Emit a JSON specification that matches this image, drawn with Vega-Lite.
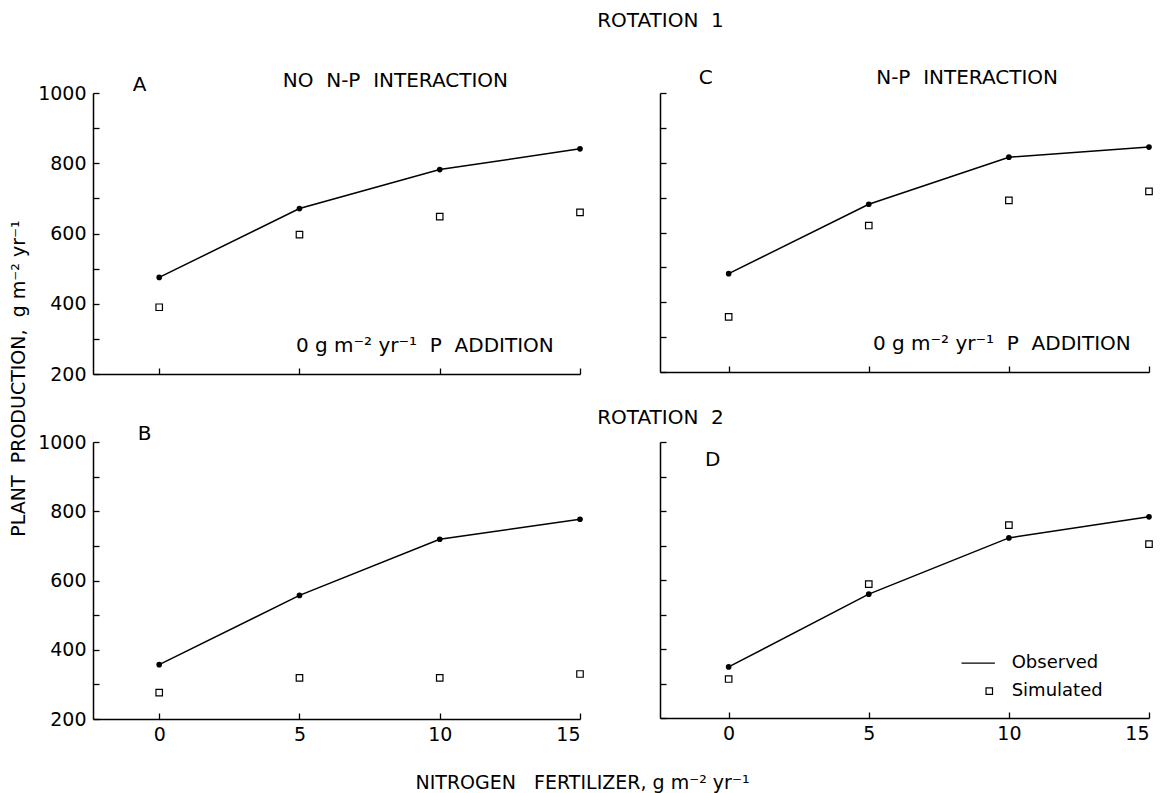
{
  "$schema": "https://vega.github.io/schema/vega-lite/v6.json",
  "background": "white",
  "padding": {"left": 9, "top": 11, "right": 5, "bottom": 5},
  "config": {
    "view": {"stroke": null},
    "font": "DejaVu Sans",
    "axis": {
      "grid": false,
      "domainColor": "black",
      "domainWidth": 1.5,
      "tickColor": "black",
      "tickWidth": 1.3,
      "tickSize": -6,
      "tickCount": 20,
      "labelColor": "black",
      "labelFont": "DejaVu Sans",
      "labelFontSize": 19,
      "titleFont": "DejaVu Sans",
      "titleFontSize": 19,
      "titleFontWeight": "normal",
      "titleColor": "black"
    },
    "title": {"font": "DejaVu Sans", "fontSize": 20, "fontWeight": "normal", "color": "black"}
  },
  "datasets": {
    "production": [
      {"panel": "A", "series": "Observed", "nitrogen": 0, "production": 475},
      {"panel": "A", "series": "Observed", "nitrogen": 5, "production": 671},
      {"panel": "A", "series": "Observed", "nitrogen": 10, "production": 782},
      {"panel": "A", "series": "Observed", "nitrogen": 15, "production": 841},
      {"panel": "A", "series": "Simulated", "nitrogen": 0, "production": 390},
      {"panel": "A", "series": "Simulated", "nitrogen": 5, "production": 597},
      {"panel": "A", "series": "Simulated", "nitrogen": 10, "production": 648},
      {"panel": "A", "series": "Simulated", "nitrogen": 15, "production": 660},
      {"panel": "C", "series": "Observed", "nitrogen": 0, "production": 482},
      {"panel": "C", "series": "Observed", "nitrogen": 5, "production": 681},
      {"panel": "C", "series": "Observed", "nitrogen": 10, "production": 816},
      {"panel": "C", "series": "Observed", "nitrogen": 15, "production": 845},
      {"panel": "C", "series": "Simulated", "nitrogen": 0, "production": 358},
      {"panel": "C", "series": "Simulated", "nitrogen": 5, "production": 620},
      {"panel": "C", "series": "Simulated", "nitrogen": 10, "production": 692},
      {"panel": "C", "series": "Simulated", "nitrogen": 15, "production": 718},
      {"panel": "B", "series": "Observed", "nitrogen": 0, "production": 357},
      {"panel": "B", "series": "Observed", "nitrogen": 5, "production": 557},
      {"panel": "B", "series": "Observed", "nitrogen": 10, "production": 719},
      {"panel": "B", "series": "Observed", "nitrogen": 15, "production": 777},
      {"panel": "B", "series": "Simulated", "nitrogen": 0, "production": 276},
      {"panel": "B", "series": "Simulated", "nitrogen": 5, "production": 319},
      {"panel": "B", "series": "Simulated", "nitrogen": 10, "production": 319},
      {"panel": "B", "series": "Simulated", "nitrogen": 15, "production": 330},
      {"panel": "D", "series": "Observed", "nitrogen": 0, "production": 348},
      {"panel": "D", "series": "Observed", "nitrogen": 5, "production": 559},
      {"panel": "D", "series": "Observed", "nitrogen": 10, "production": 722},
      {"panel": "D", "series": "Observed", "nitrogen": 15, "production": 783},
      {"panel": "D", "series": "Simulated", "nitrogen": 0, "production": 313},
      {"panel": "D", "series": "Simulated", "nitrogen": 5, "production": 588},
      {"panel": "D", "series": "Simulated", "nitrogen": 10, "production": 759},
      {"panel": "D", "series": "Simulated", "nitrogen": 15, "production": 704}
    ]
  },
  "columns": 2,
  "bounds": "flush",
  "spacing": {"row": 68, "column": 80},
  "concat": [
    {
      "width": 487,
      "height": 281,
      "title": {"text": "ROTATION\u00a0\u00a01", "anchor": "middle", "frame": "group", "dx": 324, "offset": 40},
      "layer": [
        {
          "data": {"name": "production"},
          "transform": [{"filter": "datum.panel === 'A' && datum.series === 'Observed'"}],
          "mark": {"type": "line", "color": "black", "strokeWidth": 1.5},
          "encoding": {
            "x": {"field": "nitrogen", "type": "quantitative", "scale": {"domain": [-2.36, 15], "nice": false, "zero": false},
                  "axis": {"values": [0, 5, 10, 15], "labels": false, "title": null}},
            "y": {"field": "production", "type": "quantitative", "scale": {"domain": [200, 1000], "nice": false, "zero": false},
                  "axis": {"values": [200, 300, 400, 500, 600, 700, 800, 900, 1000], "format": "d",
                           "labelExpr": "datum.value % 200 === 0 ? datum.label : ''",
                           "labelPadding": 13, "title": "PLANT\u00a0\u00a0PRODUCTION,\u00a0\u00a0g\u00a0m⁻²\u00a0yr⁻¹",
                           "titleAngle": 270, "titleX": -75, "titleY": 285,
                           "titleAlign": "center", "titleBaseline": "middle"}}
          }
        },
        {
          "data": {"name": "production"},
          "transform": [{"filter": "datum.panel === 'A' && datum.series === 'Observed'"}],
          "mark": {"type": "point", "filled": true, "color": "black", "size": 32, "opacity": 1},
          "encoding": {"x": {"field": "nitrogen", "type": "quantitative"}, "y": {"field": "production", "type": "quantitative"}}
        },
        {
          "data": {"name": "production"},
          "transform": [{"filter": "datum.panel === 'A' && datum.series === 'Simulated'"}],
          "mark": {"type": "point", "shape": "square", "filled": false, "color": "black", "size": 42, "strokeWidth": 1.2, "opacity": 1},
          "encoding": {"x": {"field": "nitrogen", "type": "quantitative"}, "y": {"field": "production", "type": "quantitative"}}
        },
        {
          "data": {"values": [{}]},
          "mark": {"type": "text", "fontSize": 20, "align": "center", "baseline": "middle", "color": "black"},
          "encoding": {"x": {"datum": -0.7}, "y": {"datum": 1022}, "text": {"value": "A"}}
        },
        {
          "data": {"values": [{}]},
          "mark": {"type": "text", "fontSize": 20, "align": "center", "baseline": "middle", "color": "black"},
          "encoding": {"x": {"datum": 8.42}, "y": {"datum": 1034}, "text": {"value": "NO\u00a0\u00a0N-P\u00a0\u00a0INTERACTION"}}
        },
        {
          "data": {"values": [{}]},
          "mark": {"type": "text", "fontSize": 20, "align": "center", "baseline": "middle", "color": "black"},
          "encoding": {"x": {"datum": 9.47}, "y": {"datum": 279}, "text": {"value": "0\u00a0g\u00a0m⁻²\u00a0yr⁻¹\u00a0\u00a0P\u00a0\u00a0ADDITION"}}
        }
      ]
    },
    {
      "width": 489,
      "height": 279,
      "layer": [
        {
          "data": {"name": "production"},
          "transform": [{"filter": "datum.panel === 'C' && datum.series === 'Observed'"}],
          "mark": {"type": "line", "color": "black", "strokeWidth": 1.5},
          "encoding": {
            "x": {"field": "nitrogen", "type": "quantitative", "scale": {"domain": [-2.45, 15], "nice": false, "zero": false},
                  "axis": {"values": [0, 5, 10, 15], "labels": false, "title": null}},
            "y": {"field": "production", "type": "quantitative", "scale": {"domain": [200, 1000], "nice": false, "zero": false},
                  "axis": {"values": [200, 300, 400, 500, 600, 700, 800, 900, 1000], "labels": false, "title": null}}
          }
        },
        {
          "data": {"name": "production"},
          "transform": [{"filter": "datum.panel === 'C' && datum.series === 'Observed'"}],
          "mark": {"type": "point", "filled": true, "color": "black", "size": 32, "opacity": 1},
          "encoding": {"x": {"field": "nitrogen", "type": "quantitative"}, "y": {"field": "production", "type": "quantitative"}}
        },
        {
          "data": {"name": "production"},
          "transform": [{"filter": "datum.panel === 'C' && datum.series === 'Simulated'"}],
          "mark": {"type": "point", "shape": "square", "filled": false, "color": "black", "size": 42, "strokeWidth": 1.2, "opacity": 1},
          "encoding": {"x": {"field": "nitrogen", "type": "quantitative"}, "y": {"field": "production", "type": "quantitative"}}
        },
        {
          "data": {"values": [{}]},
          "mark": {"type": "text", "fontSize": 20, "align": "center", "baseline": "middle", "color": "black"},
          "encoding": {"x": {"datum": -0.82}, "y": {"datum": 1043}, "text": {"value": "C"}}
        },
        {
          "data": {"values": [{}]},
          "mark": {"type": "text", "fontSize": 20, "align": "center", "baseline": "middle", "color": "black"},
          "encoding": {"x": {"datum": 8.51}, "y": {"datum": 1043}, "text": {"value": "N-P\u00a0\u00a0INTERACTION"}}
        },
        {
          "data": {"values": [{}]},
          "mark": {"type": "text", "fontSize": 20, "align": "center", "baseline": "middle", "color": "black"},
          "encoding": {"x": {"datum": 9.75}, "y": {"datum": 281}, "text": {"value": "0\u00a0g\u00a0m⁻²\u00a0yr⁻¹\u00a0\u00a0P\u00a0\u00a0ADDITION"}}
        }
      ]
    },
    {
      "width": 487,
      "height": 277,
      "title": {"text": "ROTATION\u00a0\u00a02", "anchor": "middle", "frame": "group", "dx": 324, "offset": -4},
      "layer": [
        {
          "data": {"name": "production"},
          "transform": [{"filter": "datum.panel === 'B' && datum.series === 'Observed'"}],
          "mark": {"type": "line", "color": "black", "strokeWidth": 1.5},
          "encoding": {
            "x": {"field": "nitrogen", "type": "quantitative", "scale": {"domain": [-2.36, 15], "nice": false, "zero": false},
                  "axis": {"values": [0, 5, 10, 15], "labelPadding": 12,
                           "title": "NITROGEN\u00a0\u00a0\u00a0FERTILIZER,\u00a0g\u00a0m⁻²\u00a0yr⁻¹",
                           "titleX": 489, "titleY": 63, "titleAlign": "center", "titleBaseline": "middle"}},
            "y": {"field": "production", "type": "quantitative", "scale": {"domain": [200, 1000], "nice": false, "zero": false},
                  "axis": {"values": [200, 300, 400, 500, 600, 700, 800, 900, 1000], "format": "d",
                           "labelExpr": "datum.value % 200 === 0 ? datum.label : ''",
                           "labelPadding": 13, "title": null}}
          }
        },
        {
          "data": {"name": "production"},
          "transform": [{"filter": "datum.panel === 'B' && datum.series === 'Observed'"}],
          "mark": {"type": "point", "filled": true, "color": "black", "size": 32, "opacity": 1},
          "encoding": {"x": {"field": "nitrogen", "type": "quantitative"}, "y": {"field": "production", "type": "quantitative"}}
        },
        {
          "data": {"name": "production"},
          "transform": [{"filter": "datum.panel === 'B' && datum.series === 'Simulated'"}],
          "mark": {"type": "point", "shape": "square", "filled": false, "color": "black", "size": 42, "strokeWidth": 1.2, "opacity": 1},
          "encoding": {"x": {"field": "nitrogen", "type": "quantitative"}, "y": {"field": "production", "type": "quantitative"}}
        },
        {
          "data": {"values": [{}]},
          "mark": {"type": "text", "fontSize": 20, "align": "center", "baseline": "middle", "color": "black"},
          "encoding": {"x": {"datum": -0.52}, "y": {"datum": 1023}, "text": {"value": "B"}}
        }
      ]
    },
    {
      "width": 489,
      "height": 276,
      "layer": [
        {
          "data": {"name": "production"},
          "transform": [{"filter": "datum.panel === 'D' && datum.series === 'Observed'"}],
          "mark": {"type": "line", "color": "black", "strokeWidth": 1.5},
          "encoding": {
            "x": {"field": "nitrogen", "type": "quantitative", "scale": {"domain": [-2.45, 15], "nice": false, "zero": false},
                  "axis": {"values": [0, 5, 10, 15], "labelPadding": 12, "title": null}},
            "y": {"field": "production", "type": "quantitative", "scale": {"domain": [200, 1000], "nice": false, "zero": false},
                  "axis": {"values": [200, 300, 400, 500, 600, 700, 800, 900, 1000], "labels": false, "title": null}}
          }
        },
        {
          "data": {"name": "production"},
          "transform": [{"filter": "datum.panel === 'D' && datum.series === 'Observed'"}],
          "mark": {"type": "point", "filled": true, "color": "black", "size": 32, "opacity": 1},
          "encoding": {"x": {"field": "nitrogen", "type": "quantitative"}, "y": {"field": "production", "type": "quantitative"}}
        },
        {
          "data": {"name": "production"},
          "transform": [{"filter": "datum.panel === 'D' && datum.series === 'Simulated'"}],
          "mark": {"type": "point", "shape": "square", "filled": false, "color": "black", "size": 42, "strokeWidth": 1.2, "opacity": 1},
          "encoding": {"x": {"field": "nitrogen", "type": "quantitative"}, "y": {"field": "production", "type": "quantitative"}}
        },
        {
          "data": {"values": [{}]},
          "mark": {"type": "text", "fontSize": 20, "align": "center", "baseline": "middle", "color": "black"},
          "encoding": {"x": {"datum": -0.57}, "y": {"datum": 948}, "text": {"value": "D"}}
        },
        {
          "data": {"values": [{}]},
          "mark": {"type": "rule", "color": "black", "strokeWidth": 1.4},
          "encoding": {"x": {"datum": 8.31}, "x2": {"datum": 9.5}, "y": {"datum": 359}}
        },
        {
          "data": {"values": [{}]},
          "mark": {"type": "point", "shape": "square", "filled": false, "color": "black", "size": 42, "strokeWidth": 1.2, "opacity": 1},
          "encoding": {"x": {"datum": 9.3}, "y": {"datum": 278}}
        },
        {
          "data": {"values": [{}]},
          "mark": {"type": "text", "fontSize": 18, "align": "left", "baseline": "middle", "color": "black"},
          "encoding": {"x": {"datum": 10.1}, "y": {"datum": 359}, "text": {"value": "Observed"}}
        },
        {
          "data": {"values": [{}]},
          "mark": {"type": "text", "fontSize": 18, "align": "left", "baseline": "middle", "color": "black"},
          "encoding": {"x": {"datum": 10.1}, "y": {"datum": 278}, "text": {"value": "Simulated"}}
        }
      ]
    }
  ]
}
